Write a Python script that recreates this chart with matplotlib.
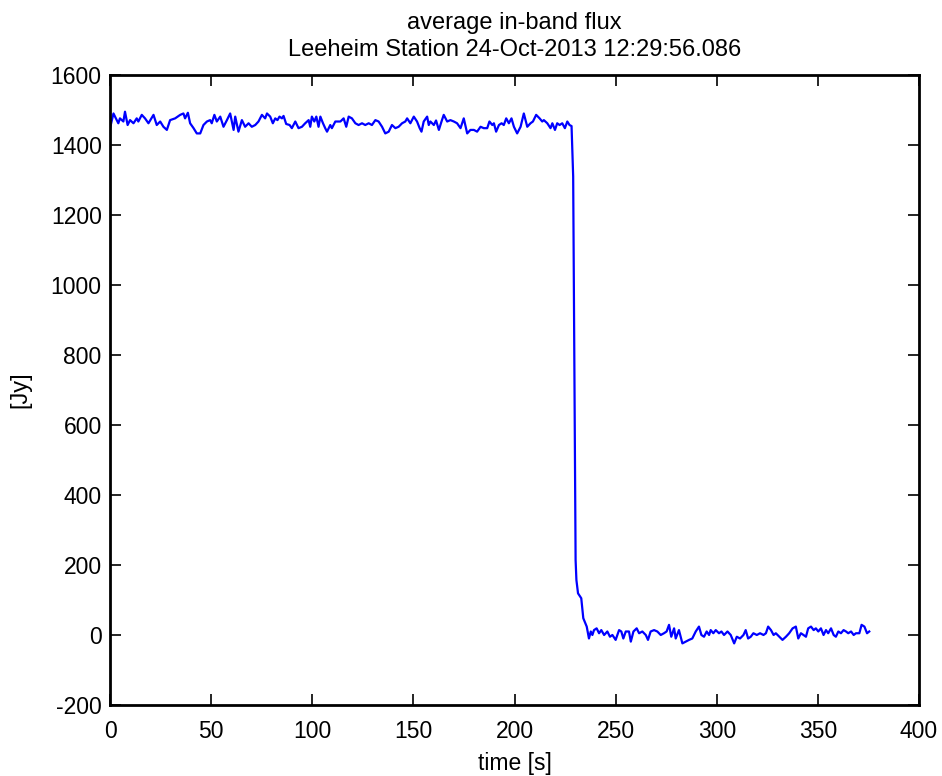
import matplotlib
matplotlib.use("Agg")
import matplotlib.pyplot as plt

# ── data (time in s, flux in Jy) ──────────────────────────────────────────────
time_s = [
    0.0, 1.7, 4.1, 4.9, 6.6, 7.4, 8.7, 9.9, 11.6, 13.2, 14.0, 15.7, 17.3, 19.0,
    21.5, 23.1, 24.8, 26.4, 28.1, 29.7, 32.2, 34.7, 36.3, 37.1, 38.5, 39.6,
    41.3, 42.9, 44.6, 46.2, 47.9, 49.5, 50.3, 51.6, 52.8, 54.5, 56.1, 57.8,
    59.4, 61.1, 61.9, 63.5, 65.2, 66.8, 68.5, 70.1, 71.8, 73.4, 75.1, 76.7,
    77.6, 79.2, 80.5, 81.7, 82.8, 83.8, 85.0, 85.8, 87.1, 88.8, 89.9, 91.6,
    93.2, 94.9, 96.5, 98.2, 99.0, 99.8, 101.0, 102.0, 103.1, 104.0, 105.3,
    106.4, 107.3, 108.9, 109.7, 111.4, 113.9, 115.5, 116.8, 118.0, 119.6,
    121.3, 122.9, 124.6, 126.2, 127.9, 129.5, 131.2, 132.8, 134.5, 136.1,
    137.8, 139.4, 141.1, 142.7, 144.4, 146.0, 146.9, 148.5, 150.2, 151.8,
    153.1, 154.0, 155.1, 156.8, 157.6, 158.4, 160.1, 161.2, 162.6, 163.9,
    165.0, 166.7, 168.3, 170.0, 171.6, 173.3, 174.9, 176.6, 178.2, 179.9,
    181.5, 183.2, 184.8, 186.5, 187.6, 189.0, 189.8, 190.9, 192.3, 193.6,
    194.7, 195.9, 197.2, 198.5, 199.7, 201.3, 203.0, 204.6, 206.3, 207.9,
    209.1, 210.7, 212.4, 213.7, 214.5, 216.2, 217.8, 218.7, 220.0, 221.1,
    222.3, 223.6, 224.9, 226.1, 227.2, 228.2, 229.0, 230.2, 230.6, 231.4,
    233.0, 234.0, 235.7, 236.8, 237.7, 238.5, 239.3, 240.6, 241.8, 242.9,
    244.3, 245.9, 247.2, 248.4, 250.0, 251.7, 252.8, 253.8, 255.0, 256.6,
    257.5, 258.8, 260.4, 261.6, 263.2, 264.9, 266.0, 267.3, 269.0, 270.6,
    272.3, 273.9, 275.2, 276.4, 277.5, 278.9, 279.7, 281.3, 283.0, 284.6,
    286.3, 287.9, 289.6, 291.2, 292.4, 293.7, 295.0, 296.2, 297.0, 298.3,
    299.5, 301.1, 302.3, 303.6, 305.3, 306.9, 308.6, 309.9, 311.5, 313.2,
    314.3, 315.5, 316.8, 318.1, 319.8, 321.4, 323.1, 324.3, 325.4, 326.8,
    328.1, 329.2, 330.9, 332.5, 334.2, 335.8, 337.5, 339.1, 340.3, 341.6,
    342.9, 344.1, 345.2, 346.6, 347.9, 349.0, 350.2, 351.5, 352.8, 354.0,
    355.1, 356.5, 357.8, 358.9, 360.1, 361.4, 362.7, 363.9, 365.0, 366.4,
    367.7, 368.8, 370.5, 371.6, 373.0, 374.3, 375.4,
]
flux_jy = [
    1448, 1490, 1462, 1476, 1467, 1495, 1457, 1471, 1462, 1476, 1467, 1486,
    1476, 1462, 1486, 1457, 1467, 1452, 1443, 1471, 1476, 1486, 1490, 1476,
    1492, 1462, 1448, 1433, 1433, 1457, 1467, 1471, 1462, 1486, 1467, 1481,
    1452, 1471, 1490, 1443, 1481, 1438, 1471, 1452, 1462, 1452, 1457, 1467,
    1486, 1476, 1490, 1481, 1462, 1476, 1471, 1481, 1476, 1483, 1460, 1457,
    1448, 1467, 1448, 1452, 1462, 1471, 1452, 1481, 1467, 1481, 1452, 1481,
    1462, 1448, 1438, 1457, 1448, 1467, 1467, 1476, 1452, 1481, 1476, 1462,
    1457, 1462, 1457, 1462, 1457, 1471, 1467, 1452, 1433, 1438, 1457, 1448,
    1452, 1462, 1467, 1476, 1462, 1481, 1467, 1448, 1438, 1467, 1481,
    1457, 1467, 1457, 1470, 1443, 1467, 1486, 1467, 1471, 1467, 1462, 1448,
    1476, 1433, 1443, 1443, 1438, 1452, 1448, 1448, 1467, 1457, 1462, 1438,
    1457, 1462, 1457, 1476, 1462, 1476, 1452, 1433, 1452, 1490, 1452, 1462,
    1467, 1486, 1476, 1467, 1471, 1462, 1448, 1462, 1443, 1462, 1457, 1462,
    1448, 1467, 1457, 1454, 1310, 214, 157, 119, 105, 48, 24, -10, 10, 0, 14,
    19, 5, 14, 0, 10, -5, 0, -14, 14, 10, -10, 10, 10, -19, 10, 19, 5, 10, 0,
    -14, 10, 14, 10, 0, 5, 10, 29, -5, 19, -10, 14, -24, -19, -14, -10, 10,
    24, 0, -5, 10, 0, 14, 5, 14, 5, 10, 0, 10, 0, -24, -5, -10, 0, 14, -10,
    -5, 5, 0, 5, 0, 5, 24, 14, 0, 5, -5, -14, -5, 5, 19, 24, -10, 5, 0, -5,
    19, 24, 14, 19, 10, 19, 0, 14, 5, 19, 0, -5, 10, 5, 14, 10, 5, 10, 0, 5,
    5, 29, 24, 5, 10,
]

x_ticks = [0, 50, 100, 150, 200, 250, 300, 350, 400]
y_ticks = [-200, 0, 200, 400, 600, 800, 1000, 1200, 1400, 1600]

plt.rcParams["font.family"] = ["Liberation Sans", "DejaVu Sans"]
plt.rcParams["axes.unicode_minus"] = False

fig = plt.figure(figsize=(9.42, 7.76), dpi=100)
ax = fig.add_axes([0.1168, 0.0915, 0.8588, 0.8119])

ax.plot(time_s, flux_jy, color="#0000ff", lw=1.6)

ax.set_xlim(0, 400)
ax.set_ylim(-200, 1600)
ax.set_xticks(x_ticks)
ax.set_yticks(y_ticks)
ax.tick_params(direction="in", length=8, width=1.2, labelsize=16.5,
               top=True, right=True, pad=6)
ax.tick_params(axis="x", pad=11)
for s in ax.spines.values():
    s.set_linewidth(2)

ax.set_xlabel("time [s]", fontsize=16.5, labelpad=6)
ax.set_ylabel("[Jy]", fontsize=17, labelpad=14)
ax.set_title("average in-band flux\nLeeheim Station 24-Oct-2013 12:29:56.086",
             fontsize=17, pad=14, linespacing=1.25)

fig.savefig("out.png", dpi=100)
